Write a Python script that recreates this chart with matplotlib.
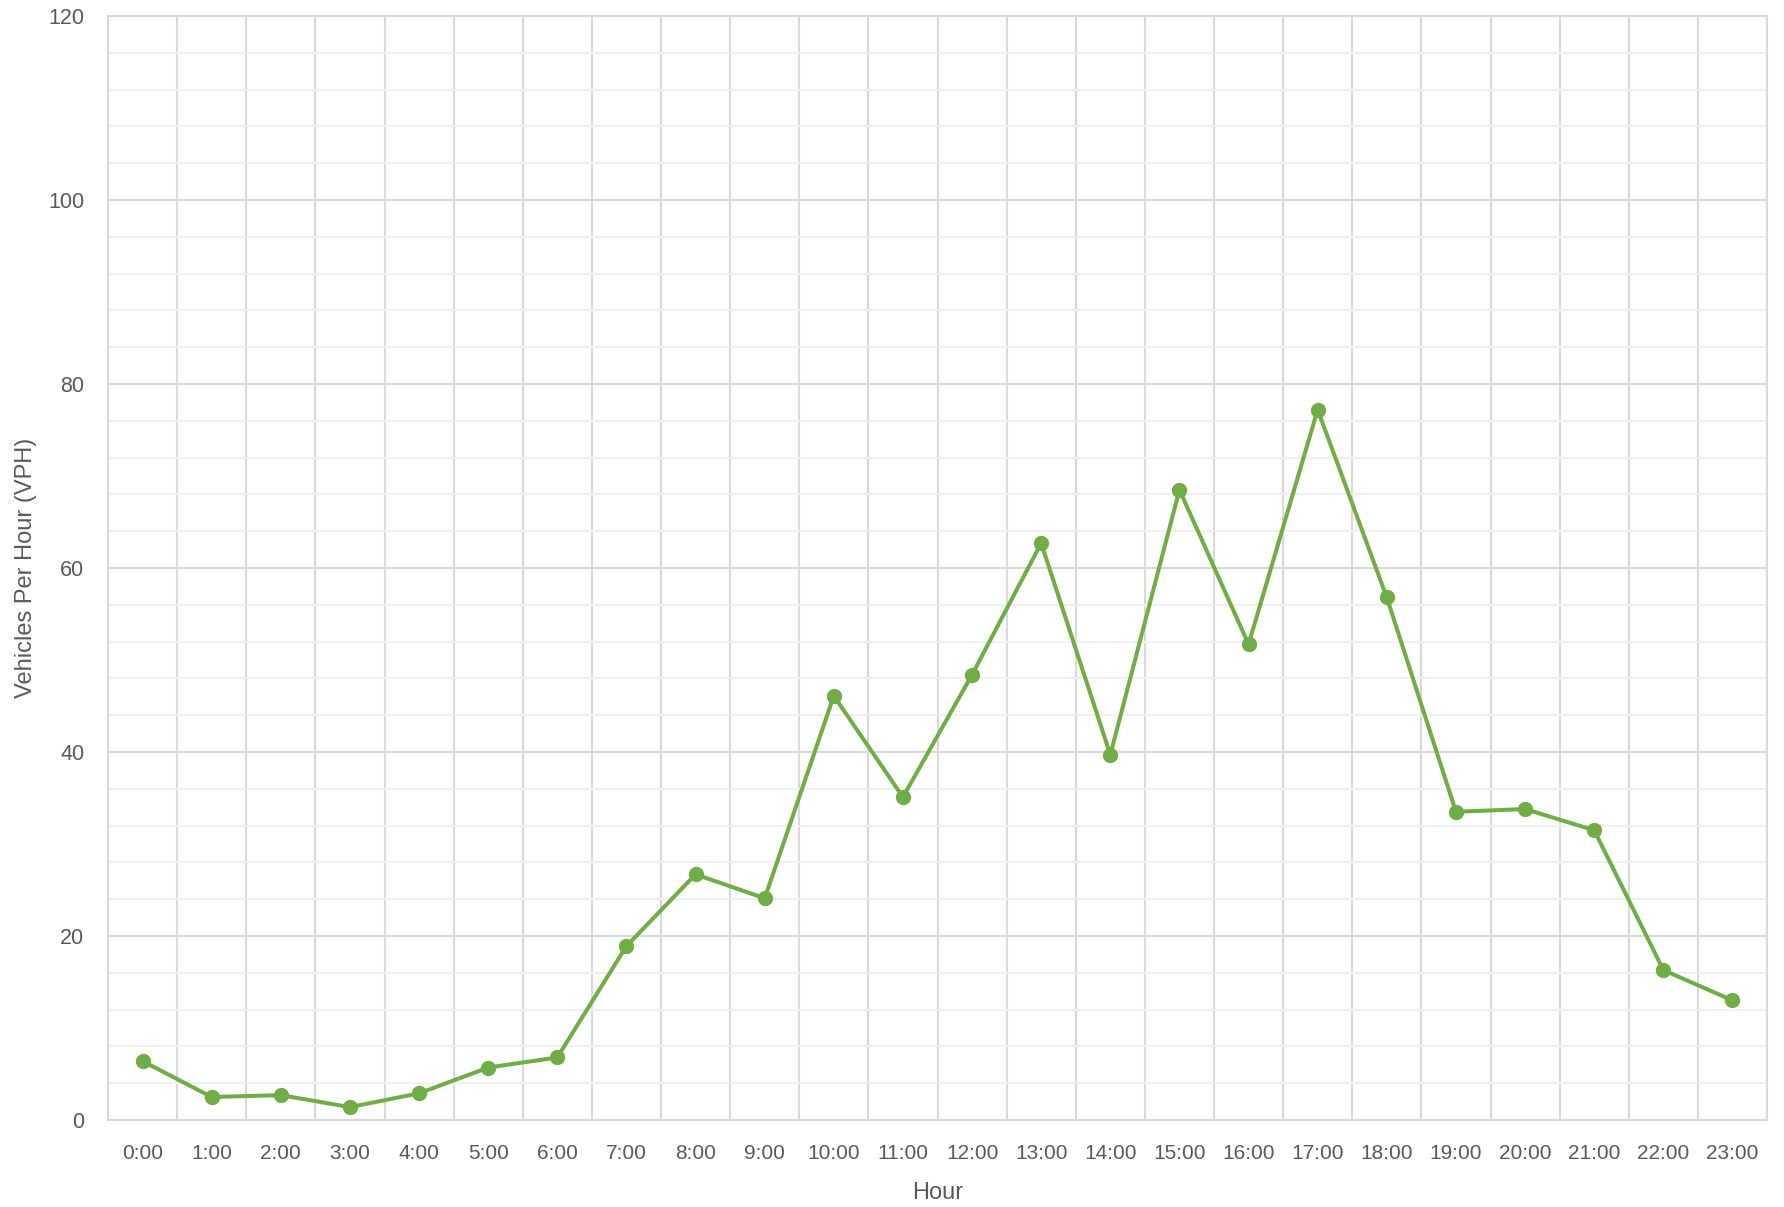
import numpy as np
import matplotlib.pyplot as plt
from matplotlib.ticker import MultipleLocator

# hourly vehicle counts
hours = [f"{h}:00" for h in range(24)]
vph = [6.4, 2.5, 2.7, 1.4, 2.9, 5.7, 6.8, 18.9, 26.7, 24.1, 46.1, 35.1,
       48.4, 62.7, 39.7, 68.5, 51.7, 77.2, 56.8, 33.5, 33.8, 31.5, 16.3, 13.0]

green = "#70AD47"
text_col = "#595959"
major_col = "#d9d9d9"
minor_col = "#f0f0f0"

plt.rcParams['font.family'] = ['Liberation Sans', 'DejaVu Sans']

fig = plt.figure(figsize=(17.84, 12.07), dpi=100)
ax = fig.add_axes([108 / 1784, 1 - 1120 / 1207, (1767 - 108) / 1784, (1120 - 16) / 1207])

x = np.arange(len(hours))
ax.plot(x, vph, color=green, lw=2.9, marker='o', ms=10, zorder=3)

ax.set_xlim(-0.5, len(hours) - 0.5)
ax.set_ylim(0, 120)
ax.yaxis.set_major_locator(MultipleLocator(20))
ax.yaxis.set_minor_locator(MultipleLocator(4))
ax.set_xticks(x)
ax.set_xticklabels(hours)
ax.set_xticks(np.arange(-0.5, len(hours)), minor=True)

# gridlines: horizontal major/minor, vertical between categories
ax.grid(which='major', axis='y', color=major_col, lw=1.5)
ax.grid(which='minor', axis='y', color=minor_col, lw=1.5)
ax.grid(which='minor', axis='x', color=major_col, lw=1.5)
ax.set_axisbelow(True)

for s in ax.spines.values():
    s.set_color(major_col)
    s.set_linewidth(1.5)

ax.tick_params(which='both', length=0)
ax.tick_params(axis='y', pad=17, labelsize=15.5, labelcolor=text_col)
ax.tick_params(axis='x', pad=17, labelsize=15, labelcolor=text_col)

ax.set_xlabel("Hour", fontsize=17, color=text_col, labelpad=14)
ax.set_ylabel("Vehicles Per Hour (VPH)", fontsize=17, color=text_col, labelpad=8)

fig.savefig("out.png", dpi=100)
